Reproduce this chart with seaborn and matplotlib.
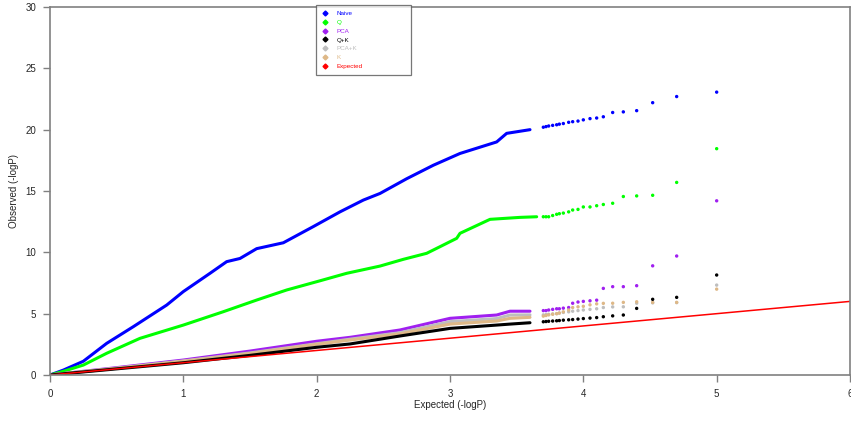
import pandas as pd
import matplotlib
matplotlib.use("Agg")
import matplotlib.pyplot as plt
import seaborn as sns
from matplotlib.lines import Line2D

# Series names and colours (R-style QQ plot of -log10 p-values)
models = ["Naive", "Q", "PCA", "Q+K", "PCA+K", "K", "Expected"]
colors = ["#0000FF", "#00FF00", "#A020F0", "#000000", "#BEBEBE", "#DEB887", "#FF0000"]

# Dense part of each curve
naive_x = [0, 0.1, 0.25, 0.425, 0.625, 0.875, 1.0, 1.2, 1.325, 1.425, 1.55, 1.75, 1.975,
           2.175, 2.35, 2.475, 2.675, 2.875, 3.075, 3.35, 3.425, 3.6]
naive_y = [0, 0.4, 1.12, 2.58, 3.94, 5.7, 6.8, 8.29, 9.24, 9.5, 10.3, 10.78, 12.1,
           13.3, 14.26, 14.8, 16.0, 17.1, 18.06, 19.0, 19.7, 20.0]

q_x = [0, 0.1, 0.25, 0.425, 0.675, 1.0, 1.3, 1.55, 1.775, 2.025, 2.225, 2.475, 2.65,
       2.825, 2.925, 3.05, 3.075, 3.3, 3.525, 3.65]
q_y = [0, 0.3, 0.81, 1.77, 2.99, 4.07, 5.16, 6.11, 6.93, 7.68, 8.29, 8.88, 9.43,
       9.92, 10.46, 11.14, 11.55, 12.69, 12.85, 12.9]

low_x = [0, 0.5, 1.0, 1.5, 2.0, 2.25, 2.625, 3.0, 3.35, 3.45, 3.6]
pca_y = [0, 0.6, 1.22, 1.95, 2.75, 3.07, 3.67, 4.62, 4.89, 5.2, 5.2]
qk_y = [0, 0.5, 1.0, 1.6, 2.26, 2.53, 3.18, 3.8, 4.07, 4.15, 4.26]
pcak_y = [0, 0.55, 1.15, 1.8, 2.55, 2.92, 3.45, 4.35, 4.6, 4.89, 4.9]
k_y = [0, 0.55, 1.12, 1.75, 2.5, 2.85, 3.35, 4.15, 4.4, 4.62, 4.7]

# Sparse tail points
tail_x = [5.0, 4.7, 4.52, 4.4, 4.3, 4.22, 4.15, 4.1, 4.05, 4.0, 3.96, 3.92, 3.89,
          3.85, 3.82, 3.8, 3.77, 3.74, 3.72, 3.7]
naive_tail = [23.06, 22.7, 22.2, 21.55, 21.45, 21.4, 21.05, 20.95, 20.9, 20.8, 20.7,
              20.65, 20.6, 20.5, 20.45, 20.4, 20.35, 20.3, 20.25, 20.2]
q_tail = [18.45, 15.7, 14.65, 14.6, 14.55, 14.0, 13.9, 13.8, 13.7, 13.7, 13.5, 13.45,
          13.3, 13.2, 13.15, 13.1, 13.0, 12.9, 12.9, 12.9]
pca_tail = [14.2, 9.7, 8.9, 7.28, 7.2, 7.2, 7.06, 6.1, 6.05, 6.0, 5.95, 5.85, 5.5,
            5.45, 5.4, 5.4, 5.35, 5.3, 5.25, 5.25]
qk_tail = [8.15, 6.33, 6.17, 5.43, 4.89, 4.82, 4.75, 4.68, 4.64, 4.6, 4.56, 4.52, 4.5,
           4.47, 4.44, 4.42, 4.4, 4.38, 4.36, 4.34]
pcak_tail = [7.33, 5.9, 5.88, 5.85, 5.56, 5.55, 5.5, 5.4, 5.35, 5.3, 5.25, 5.2, 5.15,
             5.1, 5.05, 5.0, 4.98, 4.95, 4.92, 4.9]
k_tail = [7.0, 5.92, 5.92, 5.97, 5.92, 5.85, 5.84, 5.8, 5.72, 5.6, 5.56, 5.5, 5.3,
          5.15, 5.05, 5.0, 4.95, 4.9, 4.85, 4.8]

expected_x = [0, 6]
expected_y = [0, 6]

dense = pd.concat([
    pd.DataFrame({"x": naive_x, "y": naive_y, "model": "Naive"}),
    pd.DataFrame({"x": q_x, "y": q_y, "model": "Q"}),
    pd.DataFrame({"x": low_x, "y": pca_y, "model": "PCA"}),
    pd.DataFrame({"x": low_x, "y": pcak_y, "model": "PCA+K"}),
    pd.DataFrame({"x": low_x, "y": k_y, "model": "K"}),
    pd.DataFrame({"x": low_x, "y": qk_y, "model": "Q+K"}),
])
tails = pd.concat([
    pd.DataFrame({"x": tail_x, "y": naive_tail, "model": "Naive"}),
    pd.DataFrame({"x": tail_x, "y": q_tail, "model": "Q"}),
    pd.DataFrame({"x": tail_x, "y": pca_tail, "model": "PCA"}),
    pd.DataFrame({"x": tail_x, "y": pcak_tail, "model": "PCA+K"}),
    pd.DataFrame({"x": tail_x, "y": k_tail, "model": "K"}),
    pd.DataFrame({"x": tail_x, "y": qk_tail, "model": "Q+K"}),
])
palette = dict(zip(models, colors))

sns.set_style("white")
plt.rcParams["font.family"] = ["Liberation Sans", "DejaVu Sans"]

fig = plt.figure(figsize=(8.51, 4.28), dpi=100)
ax = fig.add_axes([50 / 851, 53 / 428, 800 / 851, 368 / 428])

sns.lineplot(data=dense, x="x", y="y", hue="model", palette=palette, linewidth=2.2,
             sort=False, estimator=None, legend=False, ax=ax)
sns.scatterplot(data=tails, x="x", y="y", hue="model", palette=palette, s=6,
                marker="o", linewidth=0, legend=False, ax=ax)
sns.lineplot(x=expected_x, y=expected_y, color=palette["Expected"], linewidth=1.1, ax=ax)

ax.set_xlim(0, 6)
ax.set_ylim(0, 30)
ax.set_xticks(range(0, 7))
ax.set_yticks(range(0, 31, 5))
ax.set_xlabel("Expected (-logP)", fontsize=7, labelpad=1)
ax.set_ylabel("Observed (-logP)", fontsize=7, labelpad=4.5)
ax.tick_params(axis="both", direction="out", length=5, width=1, color="#808080",
               labelsize=7, pad=5, bottom=True, left=True)
for s in ax.spines.values():
    s.set_color("#808080")
    s.set_linewidth(1.2)

handles = [Line2D([], [], linestyle="none", marker="D", markersize=2.5, color=c)
           for c in colors]
leg = ax.legend(handles, models, loc="upper left", mode="expand",
                bbox_to_anchor=(0.3325, 0.79, 0.119, 0.215), borderaxespad=0,
                fontsize=4.5, labelspacing=0.55, handletextpad=1.2, handlelength=1.2,
                borderpad=0.9, frameon=True, fancybox=False, labelcolor=colors)
leg.get_frame().set_edgecolor("#555555")
leg.get_frame().set_linewidth(0.9)

fig.savefig("out.png", dpi=100)
